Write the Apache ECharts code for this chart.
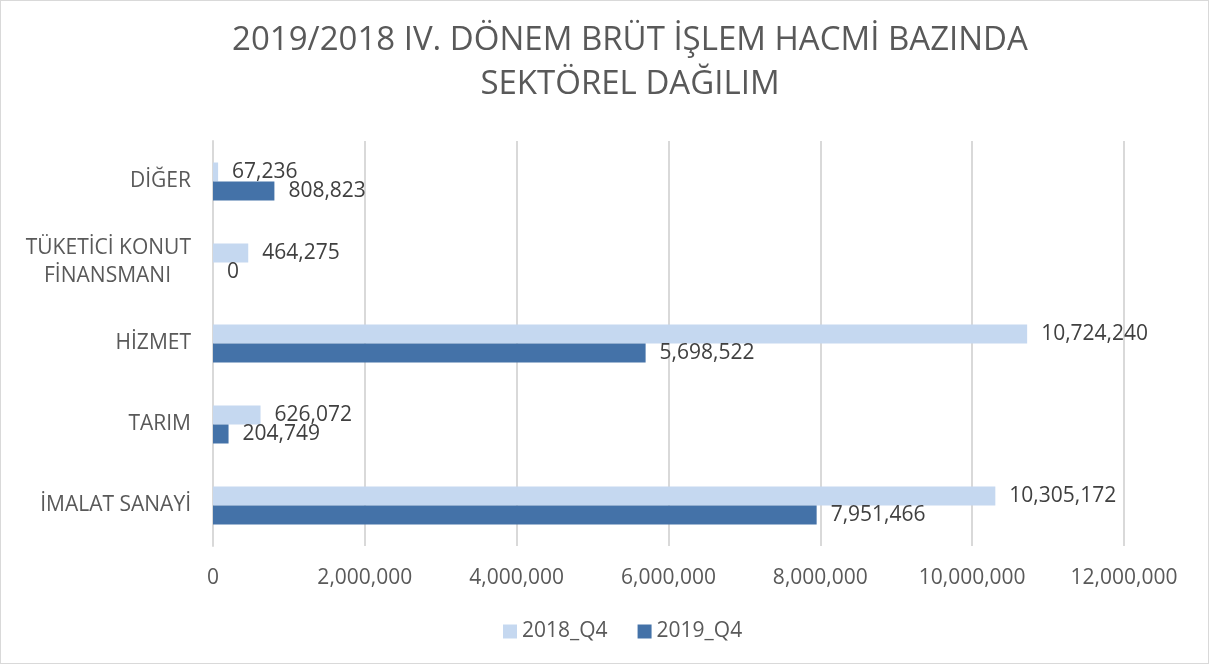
<!DOCTYPE html>
<html>
<head>
<meta charset="utf-8">
<script src="https://cdn.jsdelivr.net/npm/echarts@6/dist/echarts.min.js"></script>
<style>
	html,body{margin:0;padding:0;background:#fff;}
	#chart{width:1209px;height:664px;border:1px solid #d9d9d9;box-sizing:border-box;}
</style>
</head>
<body>
<div id="chart"></div>
<script>
	// kategoriler alttan üste
	var categories = ['İMALAT SANAYİ', 'TARIM', 'HİZMET', 'TÜKETİCİ KONUT\nFİNANSMANI', 'DİĞER'];
	var seriesNames = ['2018_Q4', '2019_Q4'];
	var values2018 = [10305172, 626072, 10724240, 464275, 67236];
	var values2019 = [7951466, 204749, 5698522, 0, 808823];
	var xTicks = [0, 2000000, 4000000, 6000000, 8000000, 10000000, 12000000];

	var fontFam = '"Open Sans", "Noto Sans", sans-serif';
	var myChart = echarts.init(document.getElementById('chart'));
	var fmt = function(v){ return Number(v).toLocaleString('en-US'); };
	var lbl = {show:true,position:'right',distance:14,color:'#404040',fontSize:21,fontFamily:fontFam,formatter:function(p){return fmt(p.value);}};
	var option = {
		animation:false,
		title:{
			text:'2019/2018 IV. DÖNEM BRÜT İŞLEM HACMİ BAZINDA\nSEKTÖREL DAĞILIM',
			left:624,
			textAlign:'center',
			top:13,
			textStyle:{color:'#595959',fontSize:33,fontWeight:'normal',fontFamily:fontFam,lineHeight:44}
		},
		legend:{
			bottom:16,
			left:497,
			itemWidth:14,
			itemHeight:14,
			itemGap:30,
			icon:'rect',
			textStyle:{color:'#595959',fontSize:21,fontFamily:fontFam},
			data:seriesNames
		},
		grid:{left:212,right:84,top:140,height:405,containLabel:false},
		xAxis:{
			type:'value',
			min:xTicks[0],
			max:xTicks[xTicks.length-1],
			interval:2000000,
			axisLine:{show:false},
			axisTick:{show:false},
			splitLine:{lineStyle:{color:'#d9d9d9',width:2}},
			axisLabel:{color:'#595959',fontSize:21,fontFamily:fontFam,margin:22,formatter:fmt}
		},
		yAxis:{
			type:'category',
			data:categories,
			axisLine:{show:true,lineStyle:{color:'#d9d9d9',width:2}},
			axisTick:{show:false},
			axisLabel:{
				color:'#595959',fontSize:21,fontFamily:fontFam,margin:22,lineHeight:28,
				formatter:function(v){
					var parts = v.split('\n');
					if(parts.length<2) return v;
					return '{a|'+parts[0]+'}\n{b|'+parts[1]+'}';
				},
				rich:{
					a:{color:'#595959',fontSize:21,fontFamily:fontFam,lineHeight:28},
					b:{color:'#595959',fontSize:21,fontFamily:fontFam,lineHeight:28,padding:[0,20,0,0]}
				}
			}
		},
		series:[
			{
				name:seriesNames[0],
				type:'bar',
				data:values2018,
				barWidth:19,
				barGap:'0%',
				itemStyle:{color:'#c5d8f0'},
				label:lbl
			},
			{
				name:seriesNames[1],
				type:'bar',
				data:values2019,
				barWidth:19,
				barGap:'0%',
				itemStyle:{color:'#4472a8'},
				label:lbl
			}
		]
	};
	myChart.setOption(option);
</script>
</body>
</html>
